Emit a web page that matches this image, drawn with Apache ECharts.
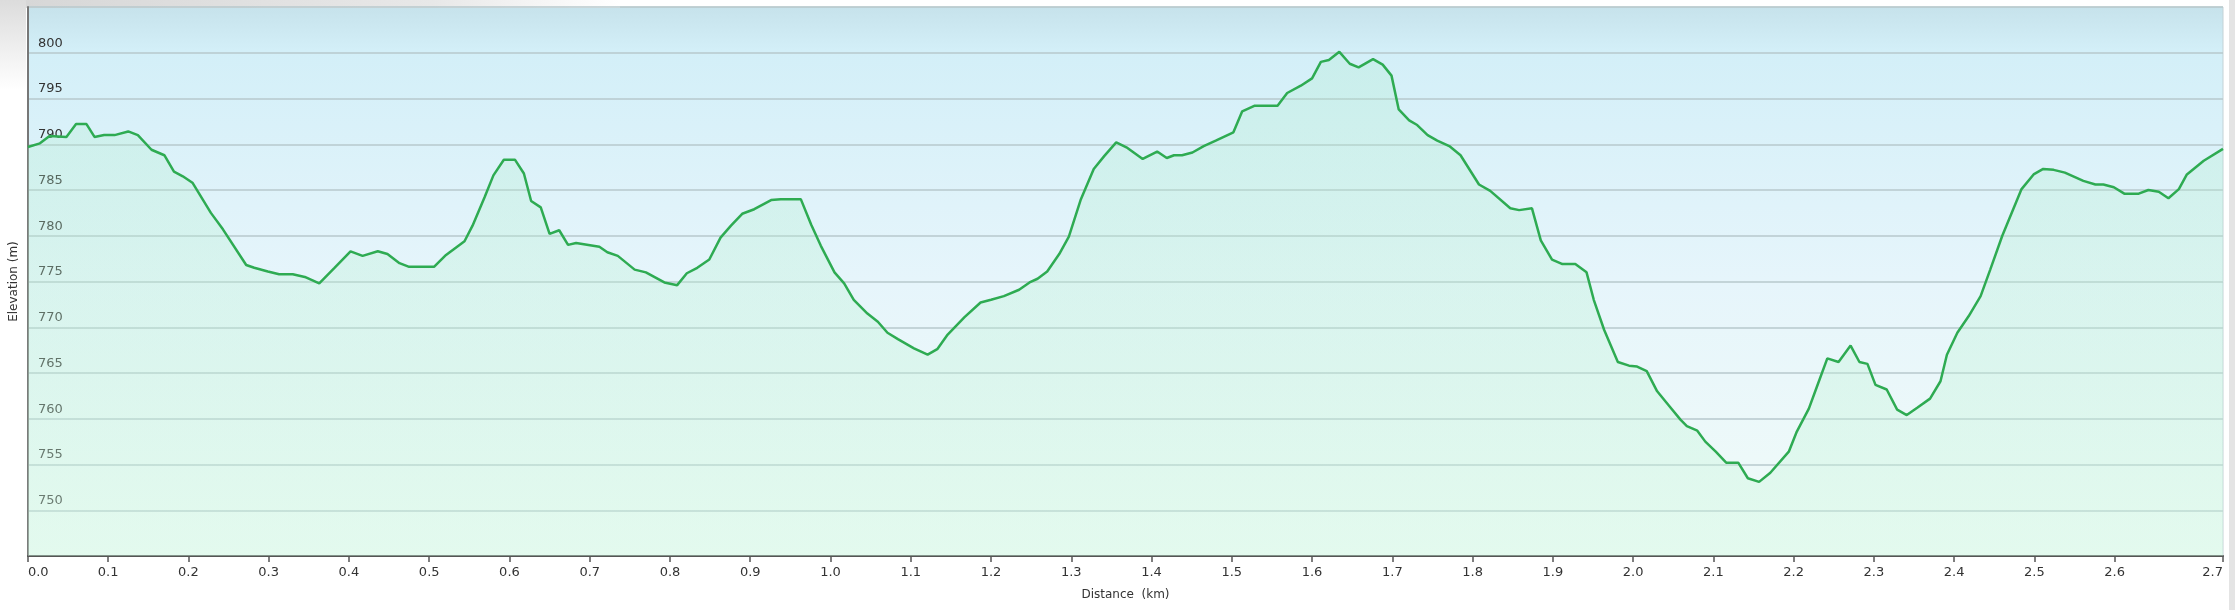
<!DOCTYPE html>
<html>
<head>
<meta charset="utf-8">
<title>Elevation profile</title>
<script src="https://cdn.jsdelivr.net/npm/echarts@6/dist/echarts.min.js"></script>
<style>
  html, body { margin: 0; padding: 0; background: #fff; }
  #chart { width: 2235px; height: 610px; }
</style>
</head>
<body>
<div id="chart"></div>
<script>
(function () {
  'use strict'

  // distance along the track (km)
  var distance = [
    0.000, 0.015, 0.027, 0.048, 0.060, 0.073, 0.083, 0.095, 0.108, 0.125,
    0.137, 0.154, 0.170, 0.182, 0.193, 0.205, 0.228, 0.243, 0.272, 0.282,
    0.299, 0.313, 0.330, 0.345, 0.363, 0.382, 0.402, 0.417, 0.436, 0.448,
    0.463, 0.475, 0.506, 0.521, 0.544, 0.554, 0.569, 0.580, 0.593, 0.607,
    0.618, 0.627, 0.639, 0.650, 0.662, 0.673, 0.683, 0.712, 0.722, 0.735,
    0.756, 0.770, 0.793, 0.809, 0.821, 0.834, 0.849, 0.863, 0.876, 0.890,
    0.905, 0.926, 0.938, 0.963, 0.976, 0.988, 1.005, 1.017, 1.029, 1.046,
    1.059, 1.071, 1.084, 1.104, 1.121, 1.133, 1.146, 1.167, 1.187, 1.200,
    1.216, 1.235, 1.248, 1.258, 1.270, 1.285, 1.297, 1.312, 1.328, 1.341,
    1.356, 1.370, 1.389, 1.407, 1.419, 1.428, 1.438, 1.451, 1.465, 1.480,
    1.502, 1.513, 1.528, 1.557, 1.569, 1.586, 1.600, 1.611, 1.621, 1.634,
    1.647, 1.658, 1.676, 1.688, 1.699, 1.708, 1.721, 1.731, 1.744, 1.756,
    1.771, 1.785, 1.808, 1.822, 1.847, 1.858, 1.874, 1.885, 1.899, 1.912,
    1.928, 1.942, 1.951, 1.964, 1.981, 1.995, 2.005, 2.017, 2.030, 2.044,
    2.059, 2.067, 2.080, 2.090, 2.103, 2.116, 2.131, 2.143, 2.157, 2.171,
    2.194, 2.204, 2.219, 2.229, 2.242, 2.256, 2.271, 2.282, 2.292, 2.302,
    2.316, 2.329, 2.341, 2.354, 2.370, 2.383, 2.391, 2.404, 2.418, 2.433,
    2.445, 2.460, 2.484, 2.499, 2.511, 2.524, 2.538, 2.561, 2.576, 2.586,
    2.599, 2.612, 2.630, 2.642, 2.655, 2.667, 2.680, 2.690, 2.711, 2.735
  ]

  // elevation (m)
  var elevation = [
    789.7, 790.1, 790.9, 790.8, 792.2, 792.2, 790.8, 791.0, 791.0, 791.4,
    791.0, 789.4, 788.8, 787.0, 786.5, 785.8, 782.5, 780.7, 776.8, 776.5,
    776.1, 775.8, 775.8, 775.5, 774.8, 776.5, 778.3, 777.8, 778.3, 778.0,
    777.0, 776.6, 776.6, 777.9, 779.4, 781.1, 784.2, 786.6, 788.3, 788.3,
    786.8, 783.8, 783.1, 780.2, 780.6, 779.0, 779.2, 778.8, 778.2, 777.8,
    776.3, 776.0, 774.9, 774.6, 775.9, 776.5, 777.4, 779.8, 781.1, 782.4,
    782.9, 783.9, 784.0, 784.0, 781.2, 778.9, 776.0, 774.8, 773.0, 771.5,
    770.6, 769.4, 768.7, 767.7, 767.0, 767.6, 769.2, 771.1, 772.7, 773.0,
    773.4, 774.1, 774.9, 775.3, 776.1, 778.0, 779.9, 784.0, 787.3, 788.7,
    790.2, 789.6, 788.4, 789.2, 788.5, 788.8, 788.8, 789.1, 789.8, 790.4,
    791.3, 793.6, 794.2, 794.2, 795.6, 796.4, 797.2, 799.0, 799.2, 800.1,
    798.8, 798.4, 799.3, 798.7, 797.5, 793.8, 792.6, 792.1, 791.0, 790.4,
    789.8, 788.8, 785.6, 784.9, 783.0, 782.8, 783.0, 779.5, 777.4, 776.9,
    776.9, 776.0, 773.0, 769.7, 766.2, 765.8, 765.7, 765.2, 763.0, 761.5,
    759.9, 759.2, 758.7, 757.5, 756.4, 755.2, 755.2, 753.5, 753.1, 754.1,
    756.4, 758.6, 761.1, 763.5, 766.6, 766.2, 768.0, 766.2, 766.0, 763.7,
    763.2, 761.0, 760.4, 761.2, 762.2, 764.1, 767.0, 769.4, 771.2, 773.4,
    776.3, 780.0, 785.1, 786.7, 787.3, 787.2, 786.9, 786.0, 785.6, 785.6,
    785.3, 784.6, 784.6, 785.0, 784.8, 784.1, 785.1, 786.7, 788.2, 789.5
  ]

  // x axis tick positions; the last one sits at the end of the track
  var xTicks = [
    0, 0.1, 0.2, 0.3, 0.4, 0.5, 0.6, 0.7, 0.8, 0.9, 1.0, 1.1, 1.2, 1.3,
    1.4, 1.5, 1.6, 1.7, 1.8, 1.9, 2.0, 2.1, 2.2, 2.3, 2.4, 2.5, 2.6, 2.735
  ]

  var yMin = 745
  var yMax = 805
  var yStep = 5

  var points = distance.map(function (d, i) {
    return [d, elevation[i]]
  })

  var font = 'DejaVu Sans, Verdana, sans-serif'

  var myChart = echarts.init(document.getElementById('chart'))

  myChart.setOption({
    animation: false,
    backgroundColor: '#ffffff',
    graphic: [
      {
        // grey shade along the top left of the page
        type: 'rect',
        shape: { x: 0, y: 0, width: 620, height: 8 },
        style: {
          fill: new echarts.graphic.LinearGradient(0, 0, 1, 0, [
            { offset: 0, color: '#d6d6d6' },
            { offset: 0.7, color: '#e8e8e8' },
            { offset: 1, color: '#ffffff' }
          ])
        },
        silent: true
      },
      {
        type: 'rect',
        shape: { x: 0, y: 0, width: 26, height: 90 },
        style: {
          fill: new echarts.graphic.LinearGradient(0, 0, 0, 1, [
            { offset: 0, color: '#dcdcdc' },
            { offset: 1, color: '#ffffff' }
          ])
        },
        silent: true
      },
      {
        type: 'rect',
        shape: { x: 2229, y: 0, width: 6, height: 610 },
        style: { fill: '#e4e4e4' },
        silent: true
      }
    ],
    grid: {
      left: 27,
      right: 12,
      top: 7,
      bottom: 54,
      show: true,
      borderColor: '#c3d2d6',
      borderWidth: 1,
      backgroundColor: new echarts.graphic.LinearGradient(0, 0, 0, 1, [
        { offset: 0, color: '#c6e2eb' },
        { offset: 0.08, color: '#d3eff8' },
        { offset: 0.5, color: '#e6f5fb' },
        { offset: 1, color: '#f1fbf8' }
      ])
    },
    xAxis: {
      type: 'value',
      min: 0,
      max: 2.735,
      name: 'Distance  (km)',
      nameLocation: 'middle',
      nameGap: 33,
      nameTextStyle: { fontFamily: font, fontSize: 12, color: '#333' },
      axisLine: { show: true, lineStyle: { color: '#555', width: 2 } },
      axisTick: {
        show: true,
        length: 6,
        customValues: xTicks,
        lineStyle: { color: '#555', width: 1.5 }
      },
      axisLabel: {
        customValues: xTicks,
        margin: 10,
        fontFamily: font,
        fontSize: 13,
        color: '#333',
        alignMinLabel: 'left',
        alignMaxLabel: 'right',
        formatter: function (v) {
          return v.toFixed(1)
        }
      },
      splitLine: { show: false }
    },
    yAxis: {
      type: 'value',
      min: yMin,
      max: yMax,
      interval: yStep,
      name: 'Elevation (m)',
      nameLocation: 'middle',
      nameGap: 7,
      nameTextStyle: { fontFamily: font, fontSize: 12, color: '#333' },
      axisLine: { show: true, lineStyle: { color: '#777', width: 2 } },
      axisTick: { show: false },
      axisLabel: {
        inside: true,
        margin: 10,
        showMinLabel: false,
        showMaxLabel: false,
        fontFamily: font,
        fontSize: 13,
        color: '#333',
        verticalAlign: 'bottom',
        padding: [0, 0, 3, 0]
      },
      splitLine: { show: true, lineStyle: { color: '#b7c9cd', width: 1.5 } }
    },
    series: [
      {
        type: 'line',
        data: points,
        symbol: 'none',
        smooth: false,
        z: 3,
        lineStyle: { color: '#2eab52', width: 2.5 },
        areaStyle: {
          origin: 'start',
          color: new echarts.graphic.LinearGradient(0, 0, 0, 1, [
            { offset: 0, color: 'rgba(170, 235, 200, 0.35)' },
            { offset: 1, color: 'rgba(205, 248, 222, 0.55)' }
          ])
        }
      }
    ]
  })
}())
</script>
</body>
</html>
